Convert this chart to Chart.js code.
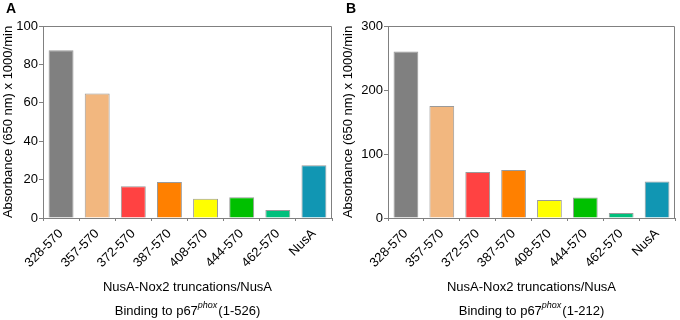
<!DOCTYPE html>
<html>
<head>
<meta charset="utf-8">
<script src="https://cdn.jsdelivr.net/npm/chart.js@4.4.0/dist/chart.umd.min.js"></script>
<style>
  html, body { margin: 0; padding: 0; background: #fff; }
  #wrap { position: relative; width: 680px; height: 320px; }
  .panel { position: absolute; top: 0; width: 340px; height: 320px; }
</style>
</head>
<body>
<div id="wrap">
  <div class="panel" style="left:0"><canvas id="cA" width="340" height="320"></canvas></div>
  <div class="panel" style="left:340px"><canvas id="cB" width="340" height="320"></canvas></div>
</div>
<script>
const categories = ['328-570', '357-570', '372-570', '387-570', '408-570', '444-570', '462-570', 'NusA'];
const valuesA = [87.4, 64.8, 16.5, 18.8, 10.0, 10.8, 4.2, 27.5];
const valuesB = [260, 175, 72, 75, 28, 32, 8, 57];
const ticksA = [0, 20, 40, 60, 80, 100];
const ticksB = [0, 100, 200, 300];
const barColors = ['#808080', '#F2B77F', '#FF4242', '#FF8000', '#FFFF00', '#00C000', '#00C07C', '#1196B3'];
const xTitle = 'NusA-Nox2 truncations/NusA';
const yTitle = 'Absorbance (650 nm) x 1000/min';
const subtitleA = ['Binding to p67', 'phox', '(1-526)'];
const subtitleB = ['Binding to p67', 'phox', '(1-212)'];

const FONT = "'Liberation Sans', Arial, sans-serif";
const AXIS = '#808080';

function decoPlugin(letter, sub) {
  return {
    id: 'deco' + letter,
    afterDraw(chart) {
      const ctx = chart.ctx;
      const a = chart.chartArea;
      ctx.save();
      ctx.strokeStyle = AXIS;
      ctx.lineWidth = 1;
      ctx.beginPath();
      ctx.moveTo(a.left, a.top + 0.5);
      ctx.lineTo(a.right - 0.5, a.top + 0.5);
      ctx.lineTo(a.right - 0.5, a.bottom);
      ctx.stroke();
      ctx.fillStyle = '#000';
      ctx.textBaseline = 'alphabetic';
      ctx.textAlign = 'left';
      ctx.font = "bold 14px " + FONT;
      ctx.fillText(letter, 6, 13);
      const f1 = "13px " + FONT;
      const f2 = "italic 9px " + FONT;
      ctx.font = f1; const w1 = ctx.measureText(sub[0]).width;
      const w3 = ctx.measureText(sub[2]).width;
      ctx.font = f2; const w2 = ctx.measureText(sub[1]).width;
      const total = w1 + w2 + 1 + w3;
      let x = (a.left + a.right) / 2 - total / 2;
      const y = 315;
      ctx.font = f1; ctx.fillText(sub[0], x, y); x += w1;
      ctx.font = f2; ctx.fillText(sub[1], x, y - 7); x += w2 + 1;
      ctx.font = f1; ctx.fillText(sub[2], x, y);
      ctx.restore();
    }
  };
}

function makeChart(id, values, ticks, letter, sub, yWidth, padRight) {
  const step = ticks[1] - ticks[0];
  return new Chart(document.getElementById(id), {
    type: 'bar',
    data: {
      labels: categories,
      datasets: [{
        data: values,
        backgroundColor: barColors,
        borderColor: 'rgba(120,120,120,0.75)',
        borderWidth: 1,
        categoryPercentage: 1,
        barPercentage: 0.69
      }]
    },
    options: {
      responsive: false,
      animation: false,
      devicePixelRatio: 1,
      layout: { padding: { top: 26, right: padRight, bottom: 0, left: 0 } },
      plugins: { legend: { display: false }, tooltip: { enabled: false } },
      scales: {
        x: {
          offset: true,
          grid: { display: true, drawOnChartArea: false, drawTicks: true, tickLength: 3, color: AXIS },
          border: { display: true, color: AXIS, width: 1 },
          ticks: { color: '#000', font: { family: FONT, size: 13 }, minRotation: 45, maxRotation: 45, padding: 5, autoSkip: false },
          title: { display: true, text: xTitle, color: '#000', font: { family: FONT, size: 13 }, padding: { top: 0, bottom: 25 } },
          afterFit(s) { s.height = 102; }
        },
        y: {
          min: ticks[0], max: ticks[ticks.length - 1],
          grid: { display: true, drawOnChartArea: false, drawTicks: true, tickLength: 4, color: AXIS },
          border: { display: true, color: AXIS, width: 1 },
          ticks: { color: '#000', font: { family: FONT, size: 13 }, stepSize: step, padding: 1 },
          title: { display: true, text: yTitle, color: '#000', font: { family: FONT, size: 13 }, padding: { top: 1, bottom: 0 } },
          afterFit(s) { s.width = yWidth; }
        }
      }
    },
    plugins: [decoPlugin(letter, sub)]
  });
}

makeChart('cA', valuesA, ticksA, 'A', subtitleA, 43, 8);
makeChart('cB', valuesB, ticksB, 'B', subtitleB, 48, 5);
</script>
</body>
</html>
